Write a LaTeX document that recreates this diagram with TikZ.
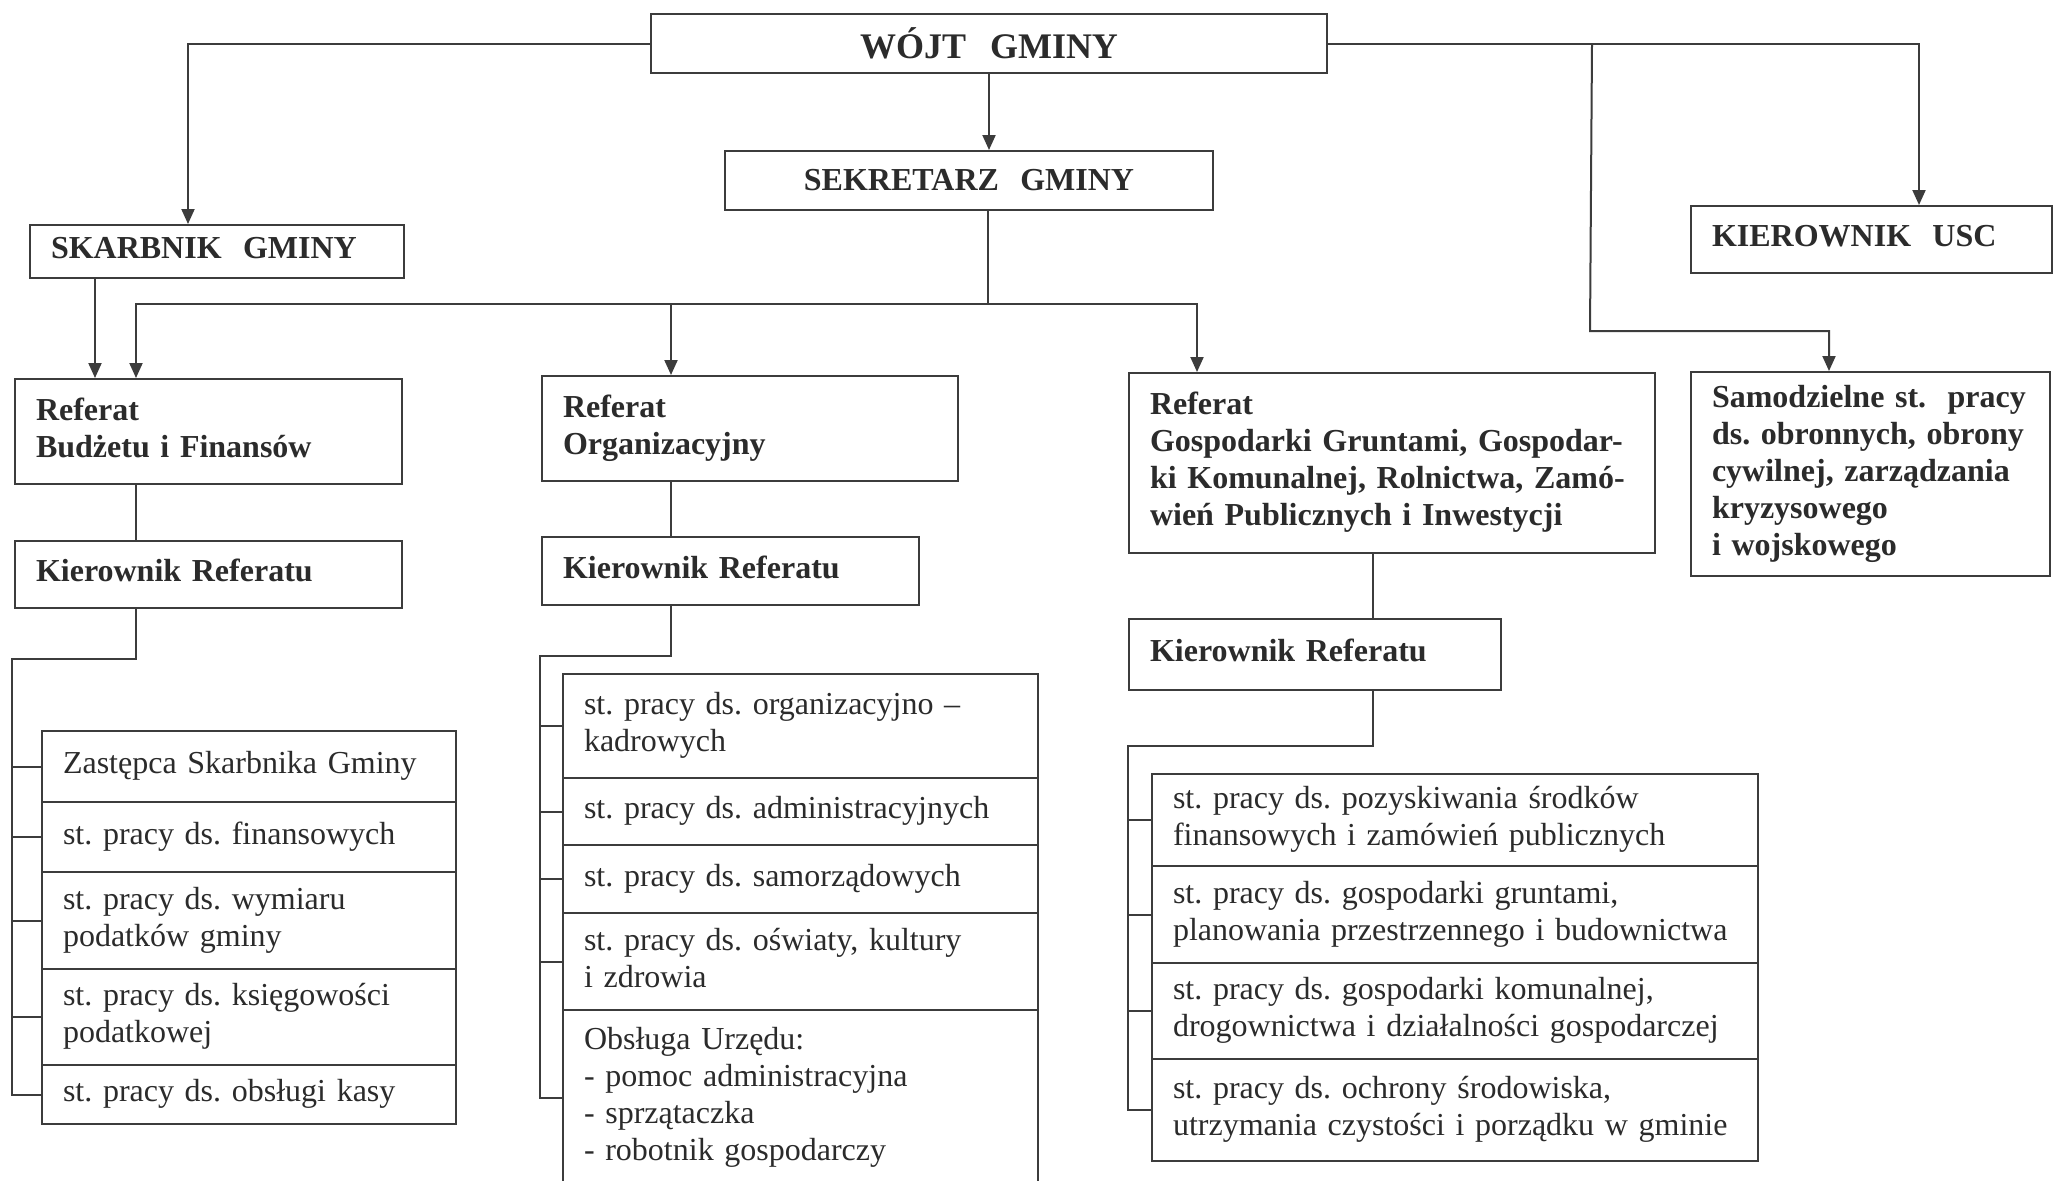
\documentclass[tikz,border=0pt]{standalone}
\usepackage{fontspec}
\setmainfont{Liberation Serif}
\usetikzlibrary{arrows.meta,calc}
\setlength\parindent{0pt}
\frenchspacing
\definecolor{lc}{HTML}{3C3C3C}
\definecolor{tc}{HTML}{2B2B2B}
\newcommand\lns[1]{\begin{tabular}{@{}l@{}}#1\end{tabular}}
\tikzset{
  bx/.style={draw=lc, line width=1pt, rectangle, anchor=north west, inner xsep=10.5pt, inner ysep=0pt,
    align=left, text=tc, font=\fontsize{16}{18.5}\selectfont},
  bbx/.style={bx, font=\bfseries\fontsize{16}{18.5}\selectfont},
  ln/.style={draw=lc, line width=1pt},
  arr/.style={ln, -{Triangle[length=7.5pt,width=6.5pt]}},
}
\begin{document}
\begin{tikzpicture}[x=0.5pt,y=-0.5pt]
\path[use as bounding box] (0,0) rectangle (2054,1180);
\fill[white] (0,0) rectangle (2054,1180);
\clip (0,0) rectangle (2054,1180);

% top level
\node[bbx, align=center, text width=317pt, minimum height=29.5pt, font=\bfseries\fontsize{18}{21}\selectfont] (wojt) at (650,13) {WÓJT~~GMINY};
\node[bbx, align=center, text width=223pt, minimum height=29.5pt] (sek) at (724,150) {SEKRETARZ~~GMINY};
\node[bbx, text width=166pt, minimum height=26.5pt] (skarb) at (29,224) {\lns{SKARBNIK~~GMINY}};
\node[bbx, text width=159.5pt, minimum height=33.5pt] (usc) at (1690,205) {\lns{KIEROWNIK~~USC}};

% referaty
\node[bbx, text width=172.5pt, minimum height=52.5pt] (refB) at (14,378) {\lns{Referat\\Budżetu i Finansów}};
\node[bbx, text width=187pt, minimum height=52.5pt] (refO) at (541,375) {\lns{Referat\\Organizacyjny}};
\node[bbx, text width=242pt, minimum height=90pt] (refG) at (1128,372) {\lns{Referat\\Gospodarki Gruntami, Gospodar-\\ki Komunalnej, Rolnictwa, Zamó-\\wień Publicznych i Inwestycji}};
\node[bbx, text width=158.5pt, minimum height=102pt] (sam) at (1690,371) {\lns{Samodzielne st.~~pracy\\ds. obronnych, obrony\\cywilnej, zarządzania\\kryzysowego\\i wojskowego}};

% kierownicy
\node[bbx, text width=172.5pt, minimum height=33.5pt] (kier1) at (14,540) {\lns{Kierownik Referatu}};
\node[bbx, text width=167.5pt, minimum height=34pt] (kier2) at (541,536) {\lns{Kierownik Referatu}};
\node[bbx, text width=165pt, minimum height=35.5pt] (kier3) at (1128,618) {\lns{Kierownik Referatu}};

% stack 1
\node[bx, text width=186pt, minimum height=35.5pt] (a1) at (41,730) {\lns{Zastępca Skarbnika Gminy}};
\node[bx, text width=186pt, minimum height=35pt] (a2) at (41,801) {\lns{st. pracy ds. finansowych}};
\node[bx, text width=186pt, minimum height=48.5pt] (a3) at (41,871) {\lns{st. pracy ds. wymiaru\\podatków gminy}};
\node[bx, text width=186pt, minimum height=48pt] (a4) at (41,968) {\lns{st. pracy ds. księgowości\\podatkowej}};
\node[bx, text width=186pt, minimum height=29.5pt] (a5) at (41,1064) {\lns{st. pracy ds. obsługi kasy}};

% stack 2
\node[bx, text width=216.5pt, minimum height=52pt] (b1) at (562,673) {\lns{st. pracy ds. organizacyjno –\\kadrowych}};
\node[bx, text width=216.5pt, minimum height=33.5pt] (b2) at (562,777) {\lns{st. pracy ds. administracyjnych}};
\node[bx, text width=216.5pt, minimum height=34pt] (b3) at (562,844) {\lns{st. pracy ds. samorządowych}};
\node[bx, text width=216.5pt, minimum height=48.5pt] (b4) at (562,912) {\lns{st. pracy ds. oświaty, kultury\\i zdrowia}};
\node[bx, text width=216.5pt, minimum height=88pt] (b5) at (562,1009) {\lns{Obsługa Urzędu:\\- pomoc administracyjna\\- sprzątaczka\\- robotnik gospodarczy}};

% stack 3
\node[bx, text width=282pt, minimum height=46pt] (c1) at (1151,773) {\lns{st. pracy ds. pozyskiwania środków\\finansowych i zamówień publicznych}};
\node[bx, text width=282pt, minimum height=48.5pt] (c2) at (1151,865) {\lns{st. pracy ds. gospodarki gruntami,\\planowania przestrzennego i budownictwa}};
\node[bx, text width=282pt, minimum height=48pt] (c3) at (1151,962) {\lns{st. pracy ds. gospodarki komunalnej,\\drogownictwa i działalności gospodarczej}};
\node[bx, text width=282pt, minimum height=51pt] (c4) at (1151,1058) {\lns{st. pracy ds. ochrony środowiska,\\utrzymania czystości i porządku w gminie}};

% connectors from the Wojt
\draw[arr] (wojt.west) -| ($(skarb.north west)+(159,0)$);
\draw[arr] (wojt.east) -| ($(usc.north west)+(229,0)$);
\path (wojt.east) -- ++(264,0) coordinate (brT);
\coordinate (brB) at (1590,331);
\draw[arr] (brT) -- (brB) -| ($(sam.north west)+(139,0)$);
\draw[arr] (wojt.south) -- (wojt.south |- sek.north);

% bus from Sekretarz
\coordinate (busC) at (988,304);
\coordinate (busL) at (136,304);
\coordinate (busM) at (671,304);
\coordinate (busR) at (1197,304);
\draw[ln] (busC |- sek.south) -- (busC);
\draw[arr] (busC) -| (busL |- refB.north);
\draw[arr] (busC) -| (busR |- refG.north);
\draw[arr] (busM) -- (busM |- refO.north);

% Skarbnik -> Referat Budzetu
\draw[arr] ($(skarb.south west)+(66,0)$) -- ($(refB.north west)+(81,0)$);

% referat -> kierownik
\coordinate (g) at (1373,0);
\draw[ln] (busL |- refB.south) -- (busL |- kier1.north);
\draw[ln] (busM |- refO.south) -- (busM |- kier2.north);
\draw[ln] (g |- refG.south) -- (g |- kier3.north);

% kierownik -> stacks
\coordinate (t1) at (12,659);
\draw[ln] (busL |- kier1.south) |- (t1) -- (t1 |- a5.west) -- (a5.west);
\foreach \n in {a1,a2,a3,a4} \draw[ln] (t1 |- \n.west) -- (\n.west);
\coordinate (t2) at (540,656);
\draw[ln] (busM |- kier2.south) |- (t2) -- (t2 |- b5.west) -- (b5.west);
\foreach \n in {b1,b2,b3,b4} \draw[ln] (t2 |- \n.west) -- (\n.west);
\coordinate (t3) at (1128,746);
\draw[ln] (g |- kier3.south) |- (t3) -- (t3 |- c4.west) -- (c4.west);
\foreach \n in {c1,c2,c3} \draw[ln] (t3 |- \n.west) -- (\n.west);
\end{tikzpicture}
\end{document}
